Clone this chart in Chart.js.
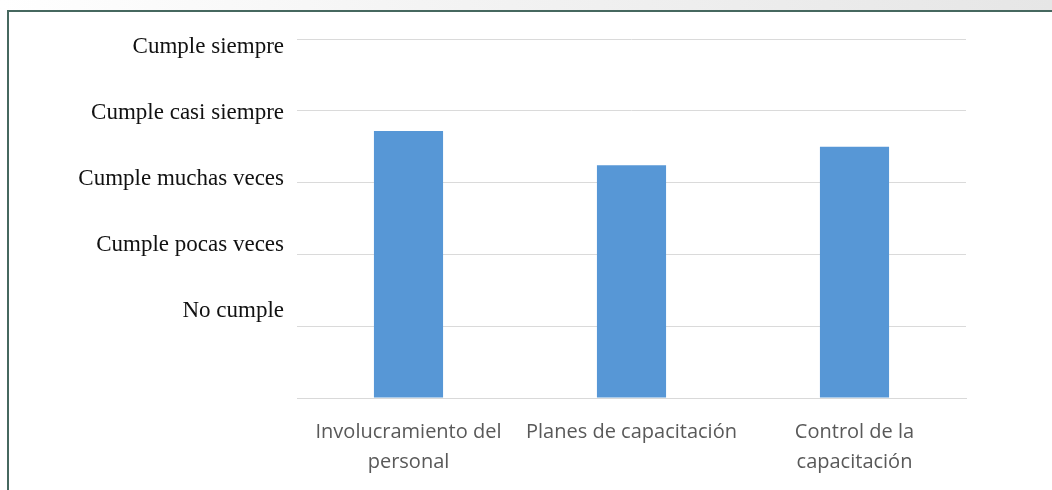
<!DOCTYPE html>
<html>
<head>
<meta charset="utf-8">
<script src="https://cdn.jsdelivr.net/npm/chart.js@4/dist/chart.umd.min.js"></script>
<style>
  html, body { margin: 0; padding: 0; background: #fff; }
  #wrap { position: relative; width: 1052px; height: 490px; overflow: hidden; }
  #topband { position: absolute; left: 0; top: 0; width: 1052px; height: 10px;
             background: linear-gradient(to right, #ffffff 0%, #f4f4f4 40%, #e6e6e6 100%); }
  #frame { position: absolute; left: 7px; top: 10px; width: 1060px; height: 500px;
           border-left: 2px solid #46685f; border-top: 2px solid #46685f; box-sizing: border-box; }
  canvas { position: absolute; left: 0; top: 0; }
</style>
</head>
<body>
<div id="wrap">
  <div id="topband"></div>
  <div id="frame"></div>
  <canvas id="chart" width="1052" height="490"></canvas>
</div>
<script>
// Dimensiones evaluadas y su puntaje promedio (escala 1-5)
const categorias = [
    ['Involucramiento del', 'personal'],
    'Planes de capacitación',
    ['Control de la', 'capacitación']
];
const puntajes = [3.72, 3.24, 3.50];

// Niveles de la escala, de 1 a 5
const niveles = ['No cumple', 'Cumple pocas veces', 'Cumple muchas veces', 'Cumple casi siempre', 'Cumple siempre'];
const valoresNivel = [1, 2, 3, 4, 5];

new Chart(document.getElementById('chart'), {
    type: 'bar',
    data: {
        labels: categorias,
        datasets: [{
            data: puntajes,
            backgroundColor: '#5797d6',
            barPercentage: 0.31,
            categoryPercentage: 1
        }]
    },
    options: {
        responsive: false,
        animation: false,
        layout: { padding: { top: 39, right: 86, left: 0, bottom: 0 } },
        plugins: {
            legend: { display: false },
            tooltip: { enabled: false }
        },
        scales: {
            x: {
                grid: { display: false },
                border: { color: '#d9d9d9', width: 1 },
                ticks: {
                    color: '#595959',
                    font: { family: 'Open Sans', size: 20, lineHeight: 1.5 },
                    padding: 11,
                    maxRotation: 0
                },
                afterFit: (scale) => { scale.height = 92; }
            },
            y: {
                min: 0,
                max: 5,
                ticks: { display: false, stepSize: 1 },
                grid: { color: '#dadada', drawTicks: false },
                border: { display: false },
                afterFit: (scale) => { scale.width = 0; }
            },
            // eje de etiquetas de la escala, espaciado propio
            niveles: {
                position: 'left',
                min: -0.32,
                max: 5.12,
                grid: { display: false },
                border: { display: false },
                afterBuildTicks: (scale) => {
                    scale.ticks = valoresNivel.map(v => ({ value: v }));
                },
                ticks: {
                    color: '#111',
                    font: { family: 'Liberation Serif', size: 23 },
                    padding: 5,
                    callback: (v) => niveles[v - 1]
                },
                afterFit: (scale) => { scale.width = 297; }
            }
        }
    }
});
</script>
</body>
</html>
